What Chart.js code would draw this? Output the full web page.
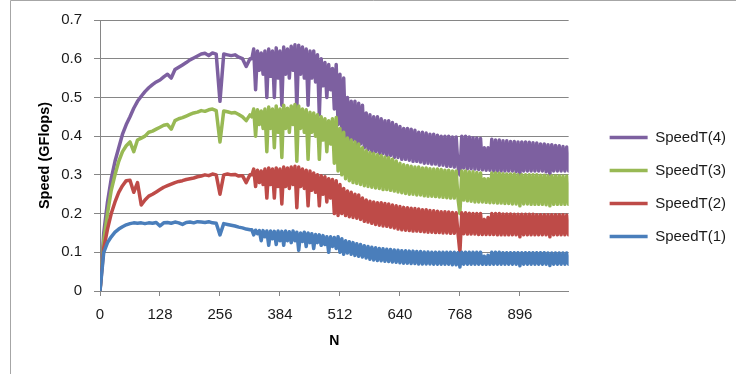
<!DOCTYPE html>
<html>
<head>
<meta charset="utf-8">
<script src="https://cdn.jsdelivr.net/npm/chart.js@4.4.1/dist/chart.umd.min.js"></script>
<style>
  html, body { margin: 0; padding: 0; background: #fff; }
  canvas { display: block; }
</style>
</head>
<body>
<canvas id="speedChart" width="736" height="374"></canvas>
<script>
// N sample positions (coarser where the curves are smooth)
const nValues = [
  0, 8, 16, 24, 32, 40, 48, 56, 64, 72, 80, 88, 96, 104, 112, 120, 128, 136, 144, 152,
  160, 168, 176, 184, 192, 200, 208, 216, 224, 232, 240, 248, 256, 264, 272, 280, 288, 296, 304, 312,
  320,
  324, 328, 332, 336, 340, 344, 348, 352, 356, 360, 364, 368, 372, 376, 380, 384,
  388, 392, 396, 400, 404, 408, 412, 416, 420, 424, 428, 432, 436, 440, 444, 448,
  452, 456, 460, 464, 468, 472, 476, 480, 484, 488, 492, 496, 500, 504, 508, 512,
  516, 520, 524, 528, 532, 536, 540, 544, 548, 552, 556, 560, 564, 568, 572, 576,
  580, 584, 588, 592, 596, 600, 604, 608, 612, 616, 620, 624, 628, 632, 636, 640,
  644, 648, 652, 656, 660, 664, 668, 672, 676, 680, 684, 688, 692, 696, 700, 704,
  708, 712, 716, 720, 724, 728, 732, 736, 740, 744, 748, 752, 756, 760, 764, 768,
  772, 776, 780, 784, 788, 792, 796, 800, 804, 808, 812, 816, 820, 824, 828, 832,
  836, 840, 844, 848, 852, 856, 860, 864, 868, 872, 876, 880, 884, 888, 892, 896,
  900, 904, 908, 912, 916, 920, 924, 928, 932, 936, 940, 944, 948, 952, 956, 960,
  964, 968, 972, 976, 980, 984, 988, 992, 996, 1000
];

const speedT1 = [
  0, 0.1, 0.125, 0.14, 0.152, 0.16, 0.166, 0.171, 0.174, 0.176, 0.175, 0.176, 0.174, 0.176, 0.175, 0.177, 0.168, 0.176, 0.177, 0.175,
  0.178, 0.176, 0.172, 0.177, 0.178, 0.176, 0.179, 0.178, 0.177, 0.179, 0.176, 0.175, 0.145, 0.174, 0.172, 0.17, 0.168, 0.165, 0.163, 0.16,
  0.158,
  0.158, 0.145, 0.157, 0.148, 0.156, 0.13, 0.156, 0.14, 0.155, 0.118, 0.155, 0.135, 0.154, 0.12, 0.155, 0.13,
  0.154, 0.118, 0.155, 0.13, 0.153, 0.125, 0.155, 0.13, 0.152, 0.105, 0.15, 0.128, 0.152, 0.115, 0.15, 0.125,
  0.148, 0.11, 0.146, 0.125, 0.145, 0.118, 0.143, 0.12, 0.14, 0.1, 0.14, 0.115, 0.138, 0.11, 0.14, 0.1,
  0.135, 0.095, 0.13, 0.098, 0.127, 0.095, 0.125, 0.092, 0.122, 0.09, 0.12, 0.088, 0.117, 0.085, 0.115, 0.082,
  0.113, 0.08, 0.112, 0.079, 0.11, 0.078, 0.109, 0.077, 0.108, 0.076, 0.107, 0.075, 0.106, 0.074, 0.105, 0.073,
  0.104, 0.072, 0.104, 0.072, 0.103, 0.071, 0.103, 0.071, 0.102, 0.07, 0.102, 0.07, 0.101, 0.07, 0.101, 0.07,
  0.1, 0.069, 0.1, 0.069, 0.1, 0.069, 0.1, 0.069, 0.1, 0.069, 0.1, 0.068, 0.1, 0.068, 0.099, 0.062,
  0.1, 0.069, 0.1, 0.069, 0.1, 0.069, 0.1, 0.069, 0.1, 0.069, 0.1, 0.069, 0.09, 0.069, 0.092, 0.069,
  0.1, 0.069, 0.1, 0.069, 0.1, 0.069, 0.099, 0.069, 0.099, 0.069, 0.099, 0.069, 0.099, 0.069, 0.099, 0.065,
  0.099, 0.069, 0.099, 0.069, 0.099, 0.069, 0.099, 0.069, 0.099, 0.069, 0.099, 0.069, 0.099, 0.069, 0.098, 0.066,
  0.098, 0.069, 0.098, 0.069, 0.098, 0.069, 0.098, 0.069, 0.098, 0.069
];

const speedT2 = [
  0, 0.11, 0.16, 0.2, 0.23, 0.255, 0.272, 0.285, 0.286, 0.255, 0.28, 0.222, 0.235, 0.245, 0.25, 0.256, 0.262, 0.268, 0.272, 0.276,
  0.28, 0.283, 0.285, 0.288, 0.29, 0.292, 0.295, 0.297, 0.3, 0.298, 0.302, 0.3, 0.25, 0.3, 0.302, 0.3, 0.301, 0.297, 0.298, 0.28,
  0.3,
  0.3, 0.315, 0.27, 0.312, 0.28, 0.31, 0.275, 0.315, 0.24, 0.318, 0.275, 0.315, 0.24, 0.318, 0.27, 0.315,
  0.225, 0.32, 0.27, 0.318, 0.265, 0.32, 0.275, 0.322, 0.215, 0.32, 0.27, 0.315, 0.265, 0.312, 0.22, 0.31,
  0.26, 0.305, 0.255, 0.3, 0.22, 0.298, 0.25, 0.295, 0.23, 0.29, 0.24, 0.288, 0.2, 0.285, 0.195, 0.275,
  0.2, 0.265, 0.195, 0.258, 0.192, 0.255, 0.19, 0.25, 0.188, 0.248, 0.185, 0.24, 0.18, 0.235, 0.178, 0.232,
  0.175, 0.23, 0.172, 0.228, 0.17, 0.228, 0.168, 0.226, 0.167, 0.225, 0.165, 0.222, 0.163, 0.22, 0.16, 0.218,
  0.158, 0.216, 0.157, 0.215, 0.156, 0.214, 0.155, 0.213, 0.155, 0.212, 0.154, 0.21, 0.153, 0.21, 0.152, 0.208,
  0.152, 0.207, 0.151, 0.206, 0.151, 0.205, 0.15, 0.205, 0.15, 0.204, 0.149, 0.203, 0.149, 0.202, 0.148, 0.1,
  0.202, 0.148, 0.202, 0.147, 0.201, 0.147, 0.2, 0.147, 0.2, 0.146, 0.2, 0.146, 0.185, 0.146, 0.19, 0.146,
  0.2, 0.146, 0.2, 0.145, 0.2, 0.145, 0.199, 0.145, 0.199, 0.145, 0.199, 0.145, 0.198, 0.145, 0.198, 0.14,
  0.198, 0.145, 0.198, 0.145, 0.198, 0.145, 0.198, 0.145, 0.197, 0.145, 0.197, 0.145, 0.197, 0.145, 0.197, 0.14,
  0.197, 0.145, 0.197, 0.145, 0.197, 0.145, 0.197, 0.145, 0.196, 0.145
];

const speedT3 = [
  0, 0.13, 0.2, 0.26, 0.3, 0.335, 0.36, 0.375, 0.385, 0.36, 0.39, 0.395, 0.4, 0.41, 0.413, 0.418, 0.423, 0.428, 0.43, 0.418,
  0.44, 0.445, 0.448, 0.452, 0.456, 0.46, 0.462, 0.466, 0.464, 0.468, 0.47, 0.466, 0.385, 0.465, 0.463, 0.46, 0.461, 0.456, 0.45, 0.44,
  0.455,
  0.45, 0.47, 0.4, 0.468, 0.43, 0.465, 0.42, 0.47, 0.36, 0.475, 0.42, 0.47, 0.37, 0.478, 0.41, 0.47,
  0.345, 0.48, 0.42, 0.472, 0.41, 0.478, 0.43, 0.482, 0.335, 0.478, 0.42, 0.47, 0.41, 0.468, 0.34, 0.462,
  0.41, 0.46, 0.4, 0.455, 0.34, 0.45, 0.39, 0.445, 0.36, 0.44, 0.38, 0.445, 0.33, 0.448, 0.31, 0.42,
  0.3, 0.41, 0.29, 0.395, 0.285, 0.39, 0.28, 0.385, 0.278, 0.38, 0.275, 0.37, 0.272, 0.362, 0.27, 0.358,
  0.268, 0.355, 0.266, 0.352, 0.265, 0.35, 0.262, 0.346, 0.262, 0.344, 0.26, 0.34, 0.258, 0.336, 0.256, 0.33,
  0.254, 0.326, 0.252, 0.324, 0.25, 0.322, 0.25, 0.32, 0.248, 0.32, 0.248, 0.318, 0.246, 0.318, 0.245, 0.316,
  0.245, 0.315, 0.244, 0.315, 0.243, 0.314, 0.242, 0.312, 0.241, 0.312, 0.24, 0.31, 0.24, 0.31, 0.238, 0.2,
  0.31, 0.235, 0.31, 0.233, 0.308, 0.232, 0.308, 0.23, 0.306, 0.23, 0.305, 0.23, 0.29, 0.229, 0.29, 0.228,
  0.305, 0.228, 0.305, 0.227, 0.304, 0.227, 0.303, 0.226, 0.302, 0.226, 0.302, 0.225, 0.302, 0.225, 0.3, 0.22,
  0.3, 0.225, 0.3, 0.225, 0.3, 0.224, 0.3, 0.224, 0.3, 0.224, 0.299, 0.224, 0.299, 0.223, 0.298, 0.22,
  0.298, 0.224, 0.298, 0.224, 0.298, 0.224, 0.297, 0.224, 0.297, 0.224
];

const speedT4 = [
  0, 0.15, 0.23, 0.29, 0.335, 0.37, 0.405, 0.43, 0.45, 0.472, 0.49, 0.503, 0.515, 0.525, 0.533, 0.54, 0.545, 0.553, 0.56, 0.55,
  0.572, 0.578, 0.584, 0.59, 0.597, 0.602, 0.607, 0.612, 0.614, 0.608, 0.615, 0.612, 0.49, 0.612, 0.61, 0.608, 0.61, 0.604, 0.6, 0.58,
  0.6,
  0.6, 0.625, 0.52, 0.62, 0.57, 0.615, 0.56, 0.62, 0.5, 0.625, 0.555, 0.62, 0.5, 0.628, 0.55, 0.62,
  0.48, 0.63, 0.56, 0.625, 0.55, 0.632, 0.57, 0.636, 0.47, 0.635, 0.56, 0.63, 0.55, 0.625, 0.48, 0.62,
  0.55, 0.62, 0.54, 0.61, 0.455, 0.6, 0.53, 0.59, 0.5, 0.585, 0.52, 0.575, 0.47, 0.585, 0.43, 0.56,
  0.41, 0.55, 0.4, 0.5, 0.39, 0.49, 0.39, 0.49, 0.38, 0.485, 0.38, 0.48, 0.37, 0.46, 0.365, 0.455,
  0.36, 0.45, 0.36, 0.45, 0.355, 0.445, 0.355, 0.44, 0.35, 0.44, 0.35, 0.435, 0.345, 0.43, 0.345, 0.425,
  0.34, 0.42, 0.34, 0.42, 0.338, 0.418, 0.335, 0.415, 0.335, 0.41, 0.333, 0.41, 0.33, 0.408, 0.33, 0.405,
  0.328, 0.405, 0.328, 0.402, 0.325, 0.4, 0.325, 0.4, 0.322, 0.4, 0.322, 0.398, 0.32, 0.398, 0.32, 0.3,
  0.4, 0.318, 0.4, 0.316, 0.398, 0.316, 0.396, 0.315, 0.395, 0.314, 0.394, 0.313, 0.37, 0.312, 0.37, 0.312,
  0.392, 0.31, 0.39, 0.31, 0.39, 0.31, 0.388, 0.31, 0.388, 0.31, 0.386, 0.31, 0.386, 0.308, 0.385, 0.3,
  0.385, 0.31, 0.385, 0.31, 0.384, 0.31, 0.383, 0.31, 0.382, 0.31, 0.38, 0.31, 0.38, 0.308, 0.378, 0.3,
  0.378, 0.31, 0.376, 0.31, 0.375, 0.31, 0.373, 0.31, 0.372, 0.31
];

const seriesNames = ['SpeedT(1)', 'SpeedT(2)', 'SpeedT(3)', 'SpeedT(4)'];
const seriesColors = ['#4a7ebb', '#be4b48', '#98b954', '#7d60a0'];
const xTicks = [0, 128, 256, 384, 512, 640, 768, 896];
const yTicks = [0, 0.1, 0.2, 0.3, 0.4, 0.5, 0.6, 0.7];

const gridGrey = '#868686';
const textFont = 'Liberation Sans, Arial, sans-serif';

const toPoints = ys => nValues.map((n, i) => ({ x: n, y: ys[i] }));

// grey chart frame (left and top edges visible)
const framePlugin = {
    id: 'frame',
    beforeDraw(chart) {
        const ctx = chart.ctx;
        ctx.save();
        ctx.strokeStyle = '#a6a6a6';
        ctx.lineWidth = 1;
        ctx.beginPath();
        ctx.moveTo(10.5, chart.height);
        ctx.lineTo(10.5, 0.5);
        ctx.lineTo(chart.width, 0.5);
        ctx.stroke();
        ctx.restore();
    }
};

new Chart(document.getElementById('speedChart'), {
    type: 'line',
    data: {
        datasets: [speedT1, speedT2, speedT3, speedT4].map((ys, i) => ({
            label: seriesNames[i],
            data: toPoints(ys),
            borderColor: seriesColors[i],
            backgroundColor: seriesColors[i],
            borderWidth: 3.5,
            borderJoinStyle: 'round',
            borderCapStyle: 'round',
            pointRadius: 0,
            tension: 0,
            fill: false
        }))
    },
    options: {
        responsive: false,
        animation: false,
        layout: { padding: { left: 32, right: 0, top: 0, bottom: 0 } },
        plugins: {
            tooltip: { enabled: false },
            legend: {
                position: 'right',
                reverse: true,
                maxWidth: 150,
                labels: {
                    usePointStyle: true,
                    pointStyle: 'line',
                    pointStyleWidth: 38,
                    padding: 18,
                    color: '#1a1a1a',
                    font: { family: textFont, size: 15 }
                }
            }
        },
        scales: {
            x: {
                type: 'linear',
                min: 0,
                max: 1000,
                afterBuildTicks: s => { s.ticks = xTicks.map(v => ({ value: v })); },
                afterFit: s => { s.height = 83; },
                grid: { drawOnChartArea: false, drawTicks: true, tickLength: 5, color: gridGrey },
                border: { color: gridGrey },
                ticks: {
                    padding: 10,
                    maxRotation: 0,
                    color: '#1a1a1a',
                    font: { family: textFont, size: 15 },
                    callback: v => String(v)
                },
                title: {
                    display: true,
                    text: 'N',
                    color: '#000',
                    padding: { top: 4, bottom: 24 },
                    font: { family: textFont, size: 14, weight: 'bold' }
                }
            },
            y: {
                min: 0,
                max: 0.7,
                afterBuildTicks: s => { s.ticks = yTicks.map(v => ({ value: v })); },
                afterFit: s => { s.width = 68; s.paddingTop = 20; },
                grid: { color: gridGrey, tickLength: 6 },
                border: { color: gridGrey },
                ticks: {
                    padding: 12,
                    color: '#1a1a1a',
                    font: { family: textFont, size: 15 },
                    callback: v => String(v)
                },
                title: {
                    display: true,
                    text: 'Speed (GFlops)',
                    color: '#000',
                    padding: { top: 4, bottom: 4 },
                    font: { family: textFont, size: 14.5, weight: 'bold' }
                }
            },
            // empty spacer between plot and legend
            gap: {
                type: 'linear',
                position: 'right',
                display: true,
                grid: { display: false },
                border: { display: false },
                ticks: { display: false },
                afterFit: s => { s.width = 23; }
            }
        }
    },
    plugins: [framePlugin]
});
</script>
</body>
</html>
